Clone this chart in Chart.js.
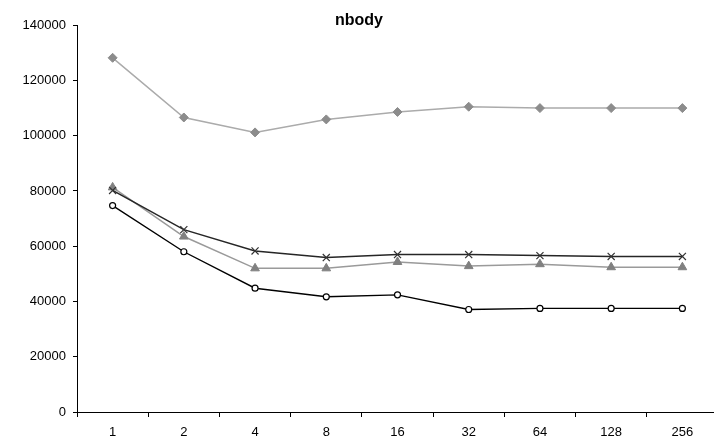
<!DOCTYPE html>
<html>
<head>
<meta charset="utf-8">
<script src="https://cdn.jsdelivr.net/npm/chart.js@4"></script>
<style>
  html, body { margin: 0; padding: 0; background: #fff; overflow: hidden; }
  #wrap { width: 740px; height: 438px; }
</style>
</head>
<body>
<div id="wrap"><canvas id="nbodyChart" width="740" height="438"></canvas></div>
<script>
// x categories (threads)
const categories = ['1', '2', '4', '8', '16', '32', '64', '128', '256'];

// series values
const diamondSeries = [128200, 106600, 101200, 105900, 108600, 110500, 110000, 110000, 110000];
const crossSeries = [80200, 66000, 58300, 55900, 57000, 57000, 56600, 56300, 56300];
const triangleSeries = [81300, 63500, 52000, 52000, 54300, 52800, 53500, 52400, 52400];
const circleSeries = [74700, 58000, 44800, 41700, 42400, 37100, 37500, 37500, 37500];

// y ticks
const yMin = 0;
const yMax = 140000;
const yStep = 20000;

const fontFamily = '"Liberation Sans", Arial, sans-serif';

const ctx = document.getElementById('nbodyChart');

new Chart(ctx, {
  type: 'line',
  data: {
    labels: categories,
    datasets: [
      {
        label: 'diamond',
        data: diamondSeries,
        borderColor: '#ababab',
        borderWidth: 1.5,
        pointStyle: 'rectRot',
        pointRadius: 4.5,
        pointBackgroundColor: '#8c8c8c',
        pointBorderColor: '#8c8c8c',
        pointBorderWidth: 1
      },
      {
        label: 'cross',
        data: crossSeries,
        borderColor: '#262626',
        borderWidth: 1.5,
        pointStyle: 'crossRot',
        pointRadius: 5,
        pointBorderColor: '#333333',
        pointBorderWidth: 1.2
      },
      {
        label: 'triangle',
        data: triangleSeries,
        borderColor: '#9a9a9a',
        borderWidth: 1.5,
        pointStyle: 'triangle',
        pointRadius: 5,
        pointBackgroundColor: '#808080',
        pointBorderColor: '#808080',
        pointBorderWidth: 1
      },
      {
        label: 'circle',
        data: circleSeries,
        borderColor: '#000000',
        borderWidth: 1.4,
        pointStyle: 'circle',
        pointRadius: 3,
        pointBackgroundColor: '#ffffff',
        pointBorderColor: '#000000',
        pointBorderWidth: 1.2
      }
    ]
  },
  options: {
    responsive: false,
    animation: false,
    layout: { padding: { left: 0, right: 22, top: 2, bottom: 0 } },
    plugins: {
      legend: { display: false },
      tooltip: { enabled: false },
      title: {
        display: true,
        text: 'nbody',
        color: '#000',
        font: { family: fontFamily, size: 16, weight: 'bold' },
        padding: { top: 9, bottom: -5 }
      }
    },
    scales: {
      x: {
        type: 'category',
        offset: true,
        grid: {
          offset: true,
          drawOnChartArea: false,
          drawTicks: true,
          tickLength: 5,
          color: '#000'
        },
        border: { color: '#000', width: 1 },
        ticks: {
          color: '#000',
          padding: 8,
          maxRotation: 0,
          font: { family: fontFamily, size: 13 }
        },
        afterFit: function(scale) { scale.height = 26; }
      },
      y: {
        min: yMin,
        max: yMax,
        grid: {
          drawOnChartArea: false,
          drawTicks: true,
          tickLength: 4,
          color: '#000'
        },
        border: { color: '#000', width: 1 },
        ticks: {
          stepSize: yStep,
          color: '#000',
          padding: 7,
          font: { family: fontFamily, size: 13 },
          callback: function(value) { return String(value); }
        },
        afterFit: function(scale) { scale.width = 77; }
      }
    }
  }
});
</script>
</body>
</html>
